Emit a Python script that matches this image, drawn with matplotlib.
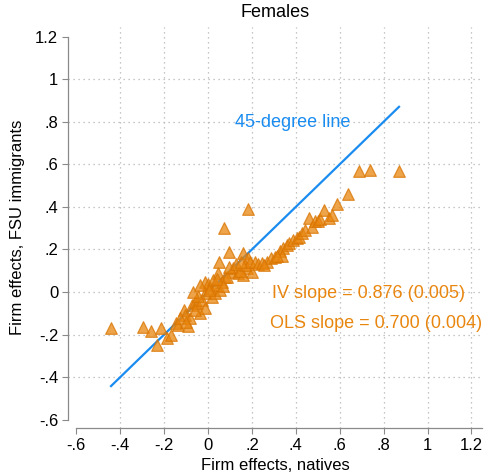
import matplotlib
matplotlib.use("Agg")
import matplotlib.pyplot as plt
import numpy as np

plt.rcParams['font.family'] = ['Liberation Sans', 'DejaVu Sans']

# Firm effects: natives (x) vs FSU immigrants (y)
natives = [-0.442, -0.296, -0.260, -0.214, -0.232, -0.187, -0.169, -0.146, -0.137, -0.091,
           -0.109, -0.105, -0.073, -0.059, -0.036, -0.050, -0.027, -0.014, 0.000, -0.014,
           0.018, 0.032, 0.055, 0.046, 0.050, 0.096, 0.073, 0.182, 0.159, 0.182,
           0.077, 0.109, -0.014, -0.082, -0.059, -0.046, 0.009, 0.023, 0.036, 0.064,
           0.087, 0.114, 0.137, 0.159, 0.178, 0.200, 0.146, 0.169, 0.191, 0.214,
           0.228, 0.246, 0.269, 0.287, 0.305, 0.328, 0.342, 0.360, 0.369, 0.387,
           0.405, 0.415, 0.428, 0.442, 0.460, 0.474, 0.487, 0.501, 0.510, 0.528,
           0.551, 0.565, 0.588, 0.638, 0.688, 0.738, 0.870, 0.337, 0.096, -0.036,
           -0.068, -0.128, -0.100, 0.128, 0.150, 0.005, 0.041, 0.070, 0.255, 0.315]
immigrants = [-0.169, -0.164, -0.183, -0.169, -0.249, -0.216, -0.202, -0.146, -0.155, -0.160,
              -0.085, -0.108, -0.061, -0.047, -0.099, -0.052, -0.038, 0.047, 0.038, -0.005,
              -0.023, -0.005, 0.009, 0.089, 0.141, 0.188, 0.301, 0.390, 0.183, 0.160,
              0.070, 0.094, -0.075, -0.122, -0.085, -0.019, 0.019, 0.056, 0.033, 0.047,
              0.070, 0.113, 0.089, 0.080, 0.113, 0.094, 0.099, 0.127, 0.141, 0.141,
              0.132, 0.136, 0.141, 0.160, 0.164, 0.193, 0.207, 0.221, 0.230, 0.244,
              0.254, 0.258, 0.277, 0.291, 0.348, 0.305, 0.334, 0.334, 0.343, 0.385,
              0.348, 0.362, 0.414, 0.461, 0.569, 0.573, 0.569, 0.169, 0.117, 0.033,
              0.000, -0.122, -0.141, 0.132, 0.141, 0.010, 0.060, 0.030, 0.125, 0.170]

ticks = [-0.6, -0.4, -0.2, 0, 0.2, 0.4, 0.6, 0.8, 1, 1.2]
tick_labels = ["-.6", "-.4", "-.2", "0", ".2", ".4", ".6", ".8", "1", "1.2"]

orange = '#E8860F'
blue = '#1A8CF0'
gray = '#8a8a8a'

fig = plt.figure(figsize=(4.98, 4.74), dpi=100)
ax = fig.add_axes([68/498, 46/474, 414/498, 401/474])
xmin, xmax = -0.638, 1.248
ymin, ymax = -0.639, 1.245
ax.set_xlim(xmin, xmax)
ax.set_ylim(ymin, ymax)

# gridlines
for t in ticks[1:]:
    ax.axvline(t, color='#b4b4b4', lw=0.9, ls=(0, (1, 3)), zorder=0)
for t in ticks[1:-1]:
    ax.axhline(t, color='#b4b4b4', lw=0.9, ls=(0, (1, 3)), zorder=0)

# 45-degree line over the range of native firm effects
lo, hi = min(natives), max(natives)
ax.plot([lo, hi], [lo, hi], color=blue, lw=1.6, zorder=2)

ax.scatter(natives, immigrants, marker='^', s=70, facecolor=orange, alpha=0.75,
           edgecolor='#D97400', linewidth=0.9, zorder=3)

ax.text(0.123, 0.795, "45-degree line", color=blue, fontsize=13, va='center', ha='left')
ax.text(0.29, -0.005, "IV slope = 0.876 (0.005)", color=orange, fontsize=13, va='center', ha='left')
ax.text(0.28, -0.146, "OLS slope = 0.700 (0.004)", color=orange, fontsize=13, va='center', ha='left')

ax.set_xticks(ticks)
ax.set_xticklabels(tick_labels)
ax.set_yticks(ticks)
ax.set_yticklabels(tick_labels)
ax.tick_params(axis='both', direction='out', length=4, width=0.8, color=gray,
               labelsize=12, pad=3)

for s in ['top', 'right']:
    ax.spines[s].set_visible(False)
for s in ['left', 'bottom']:
    ax.spines[s].set_color(gray)
    ax.spines[s].set_linewidth(0.9)
ax.spines['left'].set_bounds(-0.6, 1.2)
ax.spines['bottom'].set_bounds(-0.6, xmax)

ax.set_xlabel("Firm effects, natives", fontsize=12, labelpad=4)
ax.set_ylabel("Firm effects, FSU immigrants", fontsize=12, labelpad=7)
ax.set_title("Females", fontsize=13, pad=7)

fig.savefig("out.png", dpi=100)
